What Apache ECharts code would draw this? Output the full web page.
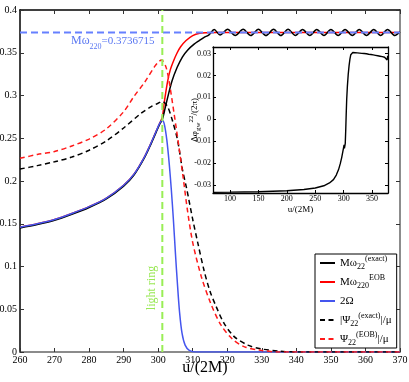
<!DOCTYPE html>
<html>
<head>
<meta charset="utf-8">
<script src="https://cdn.jsdelivr.net/npm/echarts@6/dist/echarts.min.js"></script>
<style>
  html, body { margin: 0; padding: 0; background: #fff; }
  #chart { width: 409px; height: 382px; }
</style>
</head>
<body>
<div id="chart"></div>
<script>
// main panel: u/(2M) against frequency / amplitude
var omegaExact = [
  [260,0.145],[265,0.149],[270,0.154],[275,0.161],[280,0.169],[285,0.179],[290,0.194],
  [293,0.207],[296,0.227],[298,0.244],[299.5,0.258],[300.5,0.267],[301.2,0.272],
  [302,0.285],[302.7,0.297],[304,0.317],[305.5,0.333],[307,0.345],[308.5,0.353],
  [310.4,0.360],[311.8,0.364],[313.3,0.368],[314.7,0.371],
  [316.2,0.3772],[317.9,0.3708],[320.1,0.3774],[322.3,0.3702],[324.6,0.3774],[326.8,0.3702],
  [329,0.3774],[331.2,0.3702],[333.4,0.3774],[335.5,0.3702],[337.6,0.3774],[339.7,0.3702],
  [341.8,0.3773],[343.9,0.3702],[345.9,0.3773],[348,0.3702],[350,0.3773],[352.1,0.3702],
  [354.1,0.3773],[356.2,0.3702],[358.2,0.3773],[360.3,0.3702],[362.4,0.3773],[364.4,0.3702],
  [366.4,0.3773],[368.5,0.3702],[370,0.3745]
];
var omegaEOB = [
  [260,0.146],[265,0.150],[270,0.155],[275,0.162],[280,0.170],[285,0.180],[290,0.195],
  [293,0.208],[296,0.228],[298,0.245],[299.5,0.259],[300.5,0.268],[301.2,0.275],
  [301.8,0.293],[302.7,0.316],[303.5,0.330],[304.5,0.341],[305.5,0.350],[306.5,0.357],
  [308,0.364],[310,0.370],[312,0.3728],[314,0.3735],[317,0.3737],[370,0.3737]
];
var twoOmega = [
  [260,0.146],[265,0.150],[270,0.155],[275,0.162],[280,0.170],[285,0.180],[290,0.195],
  [293,0.208],[296,0.228],[298,0.245],[299.5,0.259],[300.5,0.268],[301.2,0.271],
  [301.8,0.266],[302.5,0.248],[303.2,0.220],[303.8,0.190],[304.4,0.155],[305,0.115],
  [305.6,0.078],[306.2,0.046],[306.9,0.022],[307.8,0.008],[309,0.002],[311,0],[370,0]
];
var psiExact = [
  [260,0.214],[265,0.218],[270,0.2225],[275,0.228],[280,0.236],[285,0.247],[290,0.262],
  [295,0.279],[298,0.287],[300,0.291],[301.2,0.293],[302.7,0.287],[304.1,0.271],
  [305.6,0.248],[307,0.214],[308.3,0.190],[310,0.155],[311.5,0.127],[313.3,0.095],
  [315,0.071],[316.7,0.054],[319,0.034],[322,0.018],[326,0.008],[330,0.0035],
  [335,0.001],[340,0],[370,0]
];
var psiEOB = [
  [260,0.2265],[265,0.231],[270,0.2345],[275,0.241],[280,0.249],[285,0.261],[290,0.281],
  [293,0.299],[296,0.315],[299,0.334],[300.3,0.340],[301,0.3415],[302.2,0.334],
  [303.1,0.318],[304.6,0.279],[306,0.240],[307.2,0.205],[308.5,0.165],[310,0.128],
  [312.5,0.088],[315.2,0.057],[318.1,0.032],[321.5,0.015],[325,0.006],[329.7,0.002],
  [335,0],[370,0]
];
var qnmLine = [[260,0.3736715],[370,0.3736715]];
var lightRing = [[301.2,0],[301.2,0.4]];

// inset: phase difference
var phaseDiff = [
  [70,-0.0334],[100,-0.0333],[150,-0.0331],[200,-0.0327],[230,-0.0321],[250,-0.0314],
  [265,-0.0304],[275,-0.0291],[282,-0.0276],[287,-0.0255],[291,-0.0230],[294,-0.0203],
  [296.5,-0.0175],[298.5,-0.0148],[300,-0.0127],[300.7,-0.0117],[301.3,-0.0133],
  [302,-0.0140],[302.8,-0.0110],[303.6,-0.0050],[304.4,0.0020],[305.3,0.0090],
  [306.5,0.0150],[308,0.0205],[309.5,0.0245],[311,0.0275],[312.5,0.0295],[314,0.0303],
  [316,0.0305],[318,0.0300],[320,0.0304],[322,0.0298],[324,0.0303],[326,0.0297],
  [328,0.0302],[330,0.0296],[332,0.0301],[334,0.0295],[336,0.0300],[338,0.0294],
  [340,0.0299],[342,0.0292],[344,0.0297],[346,0.0291],[348,0.0296],[350,0.0289],
  [352,0.0294],[354,0.0288],[356,0.0292],[358,0.0286],[360,0.0290],[362,0.0284],
  [364,0.0288],[366,0.0282],[368,0.0286],[370,0.0280],[372,0.0283],[374,0.0276],
  [375.5,0.0285],[376.5,0.0271],[377.5,0.0290]
];
var insetUTicks = [100,150,200,250,300,350];
var insetPhaseTicks = [-0.03,-0.02,-0.01,0,0.01,0.02,0.03];

var names = ['Mω22(exact)','Mω220EOB','2Ω','|Ψ22(exact)|/μ','Ψ22(EOB)|/μ'];
var legendRich = {
  'Mω22(exact)': '{m|Mω}{sub|22}{sup|(exact)}',
  'Mω220EOB': '{m|Mω}{sub|220}{sup|EOB}',
  '2Ω': '{m|2Ω}',
  '|Ψ22(exact)|/μ': '{m||Ψ}{sub|22}{sup|(exact)}{m||/μ}',
  'Ψ22(EOB)|/μ': '{m|Ψ}{sub|22}{sup|(EOB)}{m||/μ}'
};

var serif = 'Liberation Serif';
var chart = echarts.init(document.getElementById('chart'));

function mainAxis(pos, showLabel){
  return {
    type:'value', gridIndex:0, position:pos,
    axisLine:{show:true, onZero:false, lineStyle:{color:(pos=='bottom'||pos=='right')?'#666':'#000', width:1.5}},
    axisTick:{show:true, inside:true, length:4, lineStyle:{color:'#333'}},
    axisLabel:{show:showLabel, color:'#000', fontFamily:serif, fontSize:10, margin:3},
    splitLine:{show:false}
  };
}
function insetAxis(pos, showLabel, ticks){
  return {
    type:'value', gridIndex:1, position:pos,
    axisLine:{show:true, onZero:false, lineStyle:{color:'#000', width:1.3}},
    axisTick:{show:true, inside:true, length:3, customValues:ticks, lineStyle:{color:'#000'}},
    axisLabel:{show:showLabel, customValues:ticks, color:'#000', fontFamily:serif, fontSize:8, margin:2,
      formatter:function(v){ return String(v); }},
    splitLine:{show:false}
  };
}

var xMain = mainAxis('bottom', true);
xMain.min = 260; xMain.max = 370; xMain.interval = 10;
xMain.name = 'u/(2M)'; xMain.nameLocation = 'middle'; xMain.nameGap = 8; xMain.nameMoveOverlap = false;
xMain.nameTextStyle = {fontFamily:serif, fontSize:16, color:'#000', padding:[0,10,0,0]};
var xTop = mainAxis('top', false); xTop.min = 260; xTop.max = 370; xTop.interval = 10;
var yMain = mainAxis('left', true); yMain.min = 0; yMain.max = 0.4; yMain.interval = 0.05;
var yRight = mainAxis('right', false); yRight.min = 0; yRight.max = 0.4; yRight.interval = 0.05;

var xIn = insetAxis('bottom', true, insetUTicks); xIn.min = 70; xIn.max = 378;
xIn.name = 'u/(2M)'; xIn.nameLocation = 'middle'; xIn.nameGap = 12; xIn.nameMoveOverlap = false;
xIn.nameTextStyle = {fontFamily:serif, fontSize:9, color:'#000'};
var xInTop = insetAxis('top', false, insetUTicks); xInTop.min = 70; xInTop.max = 378;
var yIn = insetAxis('left', true, insetPhaseTicks); yIn.min = -0.0337; yIn.max = 0.033;
yIn.name = '{m|Δφ}{sub|gw}{sup|22}{m|/(2π)}'; yIn.nameLocation = 'middle'; yIn.nameGap = 11; yIn.nameMoveOverlap = false;
yIn.nameTextStyle = {fontFamily:serif, fontSize:9, color:'#000', lineHeight:14,
  rich:{m:{fontFamily:serif, fontSize:9, lineHeight:14},
        sub:{fontFamily:serif, fontSize:7, verticalAlign:'bottom', lineHeight:14},
        sup:{fontFamily:serif, fontSize:7, verticalAlign:'top', lineHeight:14}}};
var yInRight = insetAxis('right', false, insetPhaseTicks); yInRight.min = -0.0337; yInRight.max = 0.033;

function line(name, data, color, dashed, width, smooth){
  return {
    name:name, type:'line', xAxisIndex:0, yAxisIndex:0, data:data,
    symbol:'none', smooth:smooth, silent:true,
    lineStyle:{color:color, width:width, type:dashed ? dashed : 'solid'},
    itemStyle:{color:color}
  };
}

var option = {
  animation:false,
  backgroundColor:'#fff',
  grid:[
    {left:20, top:10, width:380, height:342, outerBoundsMode:'none'},
    {left:213, top:47, width:175, height:146, show:true, backgroundColor:'#fff', borderWidth:0, outerBoundsMode:'none'}
  ],
  xAxis:[xMain, xTop, xIn, xInTop],
  yAxis:[yMain, yRight, yIn, yInRight],
  legend:{
    data:names, orient:'vertical', left:315, top:254,
    padding:[1,5,1,4], itemGap:3, itemWidth:15, itemHeight:10, itemTextGap:5,
    backgroundColor:'#fff', borderColor:'#000', borderWidth:1, borderRadius:0,
    selectedMode:false,
    itemStyle:{opacity:0},
    formatter:function(n){ return legendRich[n]; },
    textStyle:{fontFamily:serif, fontSize:11, color:'#000', lineHeight:16,
      rich:{m:{fontFamily:serif, fontSize:11, lineHeight:16},
            sub:{fontFamily:serif, fontSize:8, verticalAlign:'bottom', lineHeight:16},
            sup:{fontFamily:serif, fontSize:8, verticalAlign:'top', lineHeight:16}}}
  },
  graphic:[
    {type:'text', x:71, y:41, z:10, silent:true,
      style:{text:'{m|Mω}{sub|220}{r|=0.3736715}', fill:'#5b78f2', verticalAlign:'middle', lineHeight:20,
        rich:{m:{fontFamily:serif, fontSize:12, fill:'#5b78f2', lineHeight:20},
              sub:{fontFamily:serif, fontSize:8, fill:'#5b78f2', verticalAlign:'bottom', lineHeight:20},
              r:{fontFamily:serif, fontSize:11, fill:'#5b78f2', lineHeight:20}}}},
    {type:'text', x:152, y:288, rotation:Math.PI/2, z:10, silent:true,
      style:{text:'light ring', fontFamily:serif, fontSize:12, fill:'#99e855', align:'center', verticalAlign:'middle'}}
  ],
  series:[
    line(names[1], omegaEOB, '#ff0000', null, 1.5, 0.3),
    line(names[0], omegaExact, '#000000', null, 1.5, 0.3),
    line(names[2], twoOmega, '#4455ee', null, 1.5, 0.3),
    line(names[3], psiExact, '#000000', [5,3.5], 1.5, 0.3),
    line(names[4], psiEOB, '#ff1a1a', [5,3.5], 1.5, 0.3),
    line('qnm', qnmLine, '#6680ff', [7,4], 2, false),
    line('light ring', lightRing, '#99ee55', [7,4], 2, false),
    {
      name:'dphi', type:'line', xAxisIndex:2, yAxisIndex:2, data:phaseDiff,
      symbol:'none', smooth:false, silent:true,
      lineStyle:{color:'#000', width:1.4}, z:5
    }
  ]
};
chart.setOption(option);
</script>
</body>
</html>
